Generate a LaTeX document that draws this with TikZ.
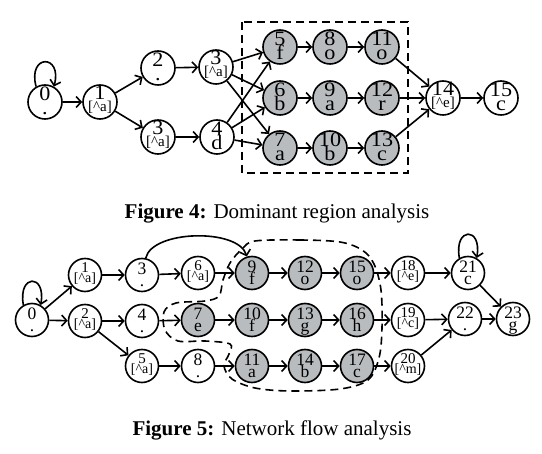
\documentclass[tikz,border=0pt]{standalone}
\usepackage{graphicx}
\usepackage{fontspec}
\setmainfont{Liberation Serif}
\usetikzlibrary{arrows.meta}
\definecolor{nodegray}{RGB}{184,188,191}
\newcommand\nodetxt[4]{\raisebox{#1}[0pt][0pt]{\makebox[0pt]{#3}}\raisebox{#2}[0pt][0pt]{\makebox[0pt]{#4}}}
\newcommand\wide[1]{\scalebox{1.08}[1]{#1}}
\newcommand\la[2]{\nodetxt{1pt}{-13pt}{\wide{#1}}{\wide{#2}}}
\newcommand\ba[2]{\nodetxt{2.5pt}{-9.5pt}{\wide{#1}}{{\fontsize{15}{15}\selectfont[\textasciicircum #2]}}}
\newcommand\lb[2]{\nodetxt{0.5pt}{-11.5pt}{#1}{#2}}
\newcommand\bb[2]{\nodetxt{2pt}{-8pt}{{\fontsize{15}{15}\selectfont #1}}{{\fontsize{14}{14}\selectfont[\textasciicircum #2]}}}
\tikzset{
  st/.style={circle, draw, line width=1.6pt, minimum size=34pt, inner sep=0pt, fill=white, text height=0pt, text depth=0pt, font=\fontsize{20.5}{20.5}\selectfont},
  gr/.style={st, fill=nodegray},
  sm/.style={st, minimum size=33pt, font=\fontsize{17.5}{17.5}\selectfont},
  smg/.style={sm, fill=nodegray},
  arr/.style={line width=1.6pt, -{Straight Barb[length=5pt,width=11pt,line width=1.6pt]}},
  region/.style={line width=1.6pt, dash pattern=on 8pt off 5pt},
  captext/.style={font=\fontsize{21}{21}\selectfont, inner sep=0pt, anchor=base}
}
\begin{document}
\begin{tikzpicture}[x=1pt,y=-1pt]
\useasboundingbox (0,0) rectangle (542,454);
% ---------- Figure 4 ----------
\node[st] (a0) at (45,102) {\la{0}{.}};
\node[st] (a1) at (100,102) {\ba{1}{a}};
\node[st] (a2) at (158,68) {\la{2}{.}};
\node[st] (a3t) at (216,67) {\ba{3}{a}};
\node[st] (a3b) at (158,137) {\ba{3}{a}};
\node[st] (a4) at (217,137) {\la{4}{d}};
\node[gr] (a5) at (280,47) {\la{5}{f}};
\node[gr] (a8) at (330,47) {\la{8}{o}};
\node[gr] (a11) at (382,47) {\la{11}{o}};
\node[gr] (a6) at (280,98) {\la{6}{b}};
\node[gr] (a9) at (330,98) {\la{9}{a}};
\node[gr] (a12) at (382,98) {\la{12}{r}};
\node[gr] (a7) at (280,148) {\la{7}{a}};
\node[gr] (a10) at (330,148) {\la{10}{b}};
\node[gr] (a13) at (382,148) {\la{13}{c}};
\node[st] (a14) at (443,98) {\ba{14}{e}};
\node[st] (a15) at (501,98) {\la{15}{c}};
\draw[region] (242,22) rectangle (408,173);
\draw[arr] (a0.120) .. controls +(-105:34) and +(-75:34) .. (a0.60);
\draw[arr] (a0) -- (a1);
\draw[arr] (a1) -- (a2);
\draw[arr] (a1) -- (a3b);
\draw[arr] (a2) -- (a3t);
\draw[arr] (a3b) -- (a4);
\foreach \t in {a5,a6,a7} {
  \draw[arr] (a3t) -- (\t);
  \draw[arr] (a4) -- (\t);
}
\draw[arr] (a5) -- (a8);
\draw[arr] (a8) -- (a11);
\draw[arr] (a6) -- (a9);
\draw[arr] (a9) -- (a12);
\draw[arr] (a7) -- (a10);
\draw[arr] (a10) -- (a13);
\draw[arr] (a11) -- (a14);
\draw[arr] (a12) -- (a14);
\draw[arr] (a13) -- (a14);
\draw[arr] (a14) -- (a15);
\node[captext] (c4) at (277,219) {\textbf{Figure 4:} Dominant region analysis};
% ---------- Figure 5 ----------
\node[sm] (b0) at (32,320) {\lb{0}{.}};
\node[sm] (b1) at (85,275) {\bb{1}{a}};
\node[sm] (b2) at (85,321) {\bb{2}{a}};
\node[sm] (b3) at (142,275) {\lb{3}{.}};
\node[sm] (b4) at (142,321) {\lb{4}{.}};
\node[sm] (b5) at (142,366) {\bb{5}{a}};
\node[sm] (b6) at (198,273) {\bb{6}{a}};
\node[smg] (b7) at (198,320) {\lb{7}{e}};
\node[sm] (b8) at (198,366) {\lb{8}{.}};
\node[smg] (b9) at (252,273) {\lb{9}{f}};
\node[smg] (b10) at (252,320) {\lb{10}{f}};
\node[smg] (b11) at (252,366) {\lb{11}{a}};
\node[smg] (b12) at (305,273) {\lb{12}{o}};
\node[smg] (b13) at (305,320) {\lb{13}{g}};
\node[smg] (b14) at (305,366) {\lb{14}{b}};
\node[smg] (b15) at (357,273) {\lb{15}{o}};
\node[smg] (b16) at (357,320) {\lb{16}{h}};
\node[smg] (b17) at (357,366) {\lb{17}{c}};
\node[sm] (b18) at (408,273) {\bb{18}{e}};
\node[sm] (b19) at (408,320) {\bb{19}{c}};
\node[sm] (b20) at (408,366) {\bb{20}{m}};
\node[sm] (b21) at (468,273) {\lb{21}{c}};
\node[sm] (b22) at (465,319) {\lb{22}{.}};
\node[sm] (b23) at (513,319) {\lb{23}{g}};
\draw[region] plot[smooth cycle, tension=0.55] coordinates {
  (255,241) (300,240) (340,242) (362,250) (374,264) (381,290) (382,328) (379,358)
  (368,380) (340,389) (290,391) (255,388) (232,379) (224,366) (229,354) (230,344)
  (205,341) (178,341) (165,330) (164,312) (176,303) (205,301) (219,296) (223,280)
  (230,263) (242,249)};
\draw[arr] (b0.120) .. controls +(-100:32) and +(-80:32) .. (b0.60);
\draw[arr] (b21.120) .. controls +(-100:32) and +(-80:32) .. (b21.60);
\draw[arr] (b0) -- (b1);
\draw[arr] (b0) -- (b2);
\draw[arr] (b1) -- (b3);
\draw[arr] (b3) -- (b6);
\draw[arr] (b6) -- (b9);
\draw[arr] (b3) .. controls (152,230) and (238,228) .. (b9);
\draw[arr] (b2) -- (b4);
\draw[arr] (b4) -- (b7);
\draw[arr] (b7) -- (b10);
\draw[arr] (b2) -- (b5);
\draw[arr] (b5) -- (b8);
\draw[arr] (b8) -- (b11);
\draw[arr] (b9) -- (b12);
\draw[arr] (b12) -- (b15);
\draw[arr] (b15) -- (b18);
\draw[arr] (b18) -- (b21);
\draw[arr] (b10) -- (b13);
\draw[arr] (b13) -- (b16);
\draw[arr] (b16) -- (b19);
\draw[arr] (b19) -- (b22);
\draw[arr] (b11) -- (b14);
\draw[arr] (b14) -- (b17);
\draw[arr] (b17) -- (b20);
\draw[arr] (b20) -- (b22);
\draw[arr] (b21) -- (b23);
\draw[arr] (b22) -- (b23);
\node[captext] (c5) at (272,436) {\textbf{Figure 5:} Network flow analysis};
\end{tikzpicture}
\end{document}
